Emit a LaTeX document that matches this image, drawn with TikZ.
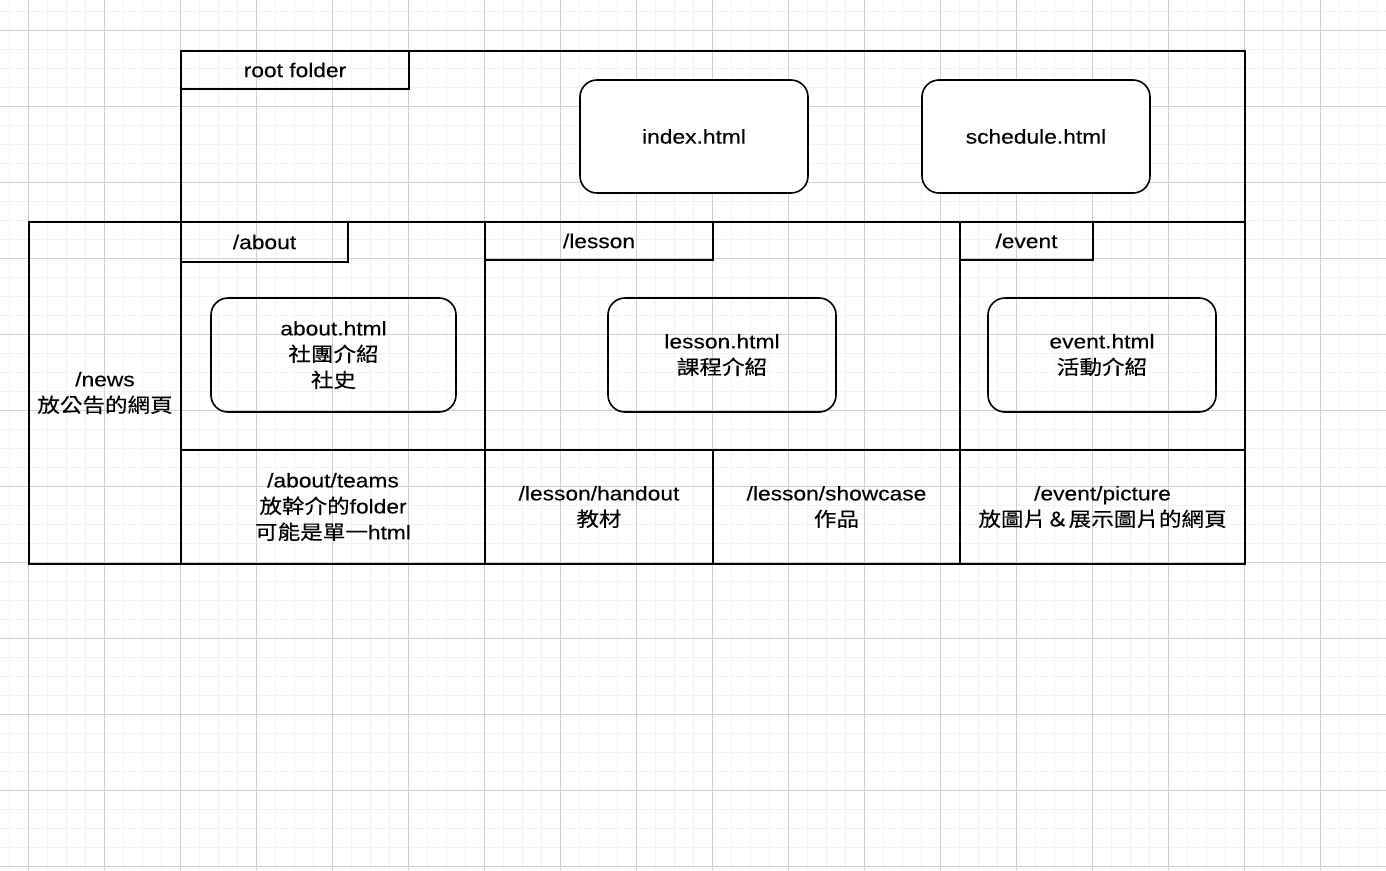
\documentclass[tikz,border=0pt]{standalone}
\usepackage{fontspec}
\setmainfont{Liberation Sans}[FakeStretch=1.15, FakeBold=0.2]
\newfontfamily\cjk{Noto Sans CJK TC}[FakeStretch=1.14, FakeBold=0.3]
\newcommand\lblfont{\fontsize{19.8}{26}\selectfont}

\definecolor{gridminor}{HTML}{F2F2F2}
\definecolor{gridmajor}{HTML}{D0D0D0}

\tikzset{
  sz/.style 2 args={minimum width=#1pt, minimum height=#2pt},
  cell/.style={draw=black, line width=2pt, inner sep=0pt, outer sep=0pt,
               anchor=north west, align=center, font=\lblfont},
  file/.style={cell, line width=1.6pt, rounded corners=17pt},
  gminor/.style={draw=gridminor, line width=1pt},
  gmajor/.style={draw=gridmajor, line width=1pt},
}

\begin{document}
\begin{tikzpicture}[x=1pt, y=-1pt]
  % canvas
  \fill[white] (0,0) rectangle (1386,870);
  \useasboundingbox (0,0) rectangle (1386,870);

  % background grid
  \foreach \i in {0,...,72} \draw[gminor] ({9.3+19*\i},0) -- ({9.3+19*\i},870);
  \foreach \j in {0,...,45} \draw[gminor] (0,{11.3+19*\j}) -- (1386,{11.3+19*\j});
  \foreach \k in {0,...,17} \draw[gmajor] ({28.3+76*\k},0) -- ({28.3+76*\k},870);
  \foreach \k in {0,...,11} \draw[gmajor] (0,{30.3+76*\k}) -- (1386,{30.3+76*\k});

  % root folder
  \node[cell, sz={1064}{171}] (root) at (181,51) {};
  \node[cell, sz={228}{38}] (roottab) at (181,51) {root folder};
  \node[file, fill=white, sz={228}{113}] (index) at (580,80) {index.html};
  \node[file, fill=white, sz={228}{113}] (schedule) at (922,80) {schedule.html};

  % /news
  \node[cell, sz={152}{342}] (news) at (29,222) {/news\\{\cjk 放公告的網頁}};

  % /about
  \node[cell, sz={304}{228}] (about) at (181,222) {};
  \node[cell, sz={167}{40}] (abouttab) at (181,222) {/about};
  \node[file, sz={245}{114}] (abouthtml) at (211,298)
    {about.html\\{\cjk 社團介紹}\\{\cjk 社史}};

  % /lesson
  \node[cell, sz={475}{228}] (lesson) at (485,222) {};
  \node[cell, sz={228}{38}] (lessontab) at (485,222) {/lesson};
  \node[file, sz={228}{114}] (lessonhtml) at (608,298)
    {lesson.html\\{\cjk 課程介紹}};

  % /event
  \node[cell, sz={285}{228}] (event) at (960,222) {};
  \node[cell, sz={133}{38}] (eventtab) at (960,222) {/event};
  \node[file, sz={228}{114}] (eventhtml) at (988,298)
    {event.html\\{\cjk 活動介紹}};

  % sub folders
  \node[cell, sz={304}{114}] (teams) at (181,450)
    {/about/teams\\{\cjk 放幹介的}folder\\{\cjk 可能是單一}html};
  \node[cell, sz={228}{114}] (handout) at (485,450)
    {/lesson/handout\\{\cjk 教材}};
  \node[cell, sz={247}{114}] (showcase) at (713,450)
    {/lesson/showcase\\{\cjk 作品}};
  \node[cell, sz={285}{114}] (picture) at (960,450)
    {/event/picture\\{\cjk 放圖片＆展示圖片的網頁}};
\end{tikzpicture}
\end{document}
